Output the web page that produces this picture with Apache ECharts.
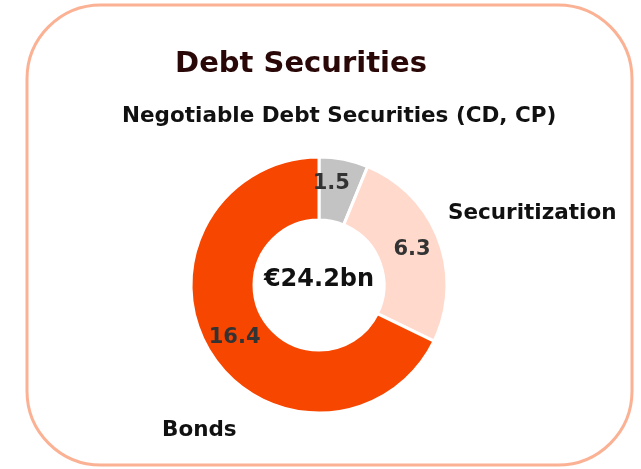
<!DOCTYPE html>
<html>
<head>
<meta charset="utf-8">
<script src="https://cdn.jsdelivr.net/npm/echarts@6/dist/echarts.min.js"></script>
<style>
  html, body { margin: 0; padding: 0; background: #fff; }
  #chart { width: 641px; height: 469px; }
</style>
</head>
<body>
<div id="chart"></div>
<script>
const categories = ["Negotiable Debt Securities (CD, CP)", "Securitization", "Bonds"];
const values = [1.5, 6.3, 16.4];
const colors = ["#C3C3C3", "#FFD9CC", "#F74600"];
const totalLabel = "€24.2bn";

const chart = echarts.init(document.getElementById("chart"));
const font = "'DejaVu Sans', sans-serif";

// small nudge so the "1.5" label sits like in the original
const labelOffsets = [[-7, -4], [0, 0], [0, 0]];

const option = {
  backgroundColor: "#fff",
  animation: false,
  title: [
    {
      text: "Debt Securities",
      left: 296,
      top: 45,
      textAlign: "center",
      textStyle: { color: "#2A0808", fontSize: 29, fontWeight: "bold", fontFamily: font },
    },
    {
      text: totalLabel,
      left: 314,
      top: 263,
      textAlign: "center",
      textStyle: { color: "#111", fontSize: 24, fontWeight: "bold", fontFamily: font },
    },
  ],
  graphic: [
    {
      type: "rect",
      shape: { x: 27, y: 5, width: 605, height: 460, r: 74 },
      style: { fill: "none", stroke: "#FBB294", lineWidth: 3 },
      z: -1,
    },
    {
      type: "text",
      left: 122,
      top: 105,
      style: { text: categories[0], fill: "#111", font: "bold 21.5px " + font },
    },
    {
      type: "text",
      left: 448,
      top: 202,
      style: { text: categories[1], fill: "#111", font: "bold 21.5px " + font },
    },
    {
      type: "text",
      left: 162,
      top: 419,
      style: { text: categories[2], fill: "#111", font: "bold 21.5px " + font },
    },
  ],
  series: [
    {
      type: "pie",
      center: [319, 285],
      radius: [65, 128],
      startAngle: 90,
      clockwise: true,
      avoidLabelOverlap: false,
      itemStyle: { borderColor: "#fff", borderWidth: 3 },
      label: {
        show: true,
        position: "inside",
        formatter: (p) => p.value.toFixed(1),
        color: "#333",
        fontSize: 21,
        fontWeight: "bold",
        fontFamily: font,
      },
      labelLine: { show: false },
      data: categories.map((name, i) => ({
        name: name,
        value: values[i],
        itemStyle: { color: colors[i] },
        label: { offset: labelOffsets[i] },
      })),
    },
  ],
};

chart.setOption(option);
</script>
</body>
</html>
